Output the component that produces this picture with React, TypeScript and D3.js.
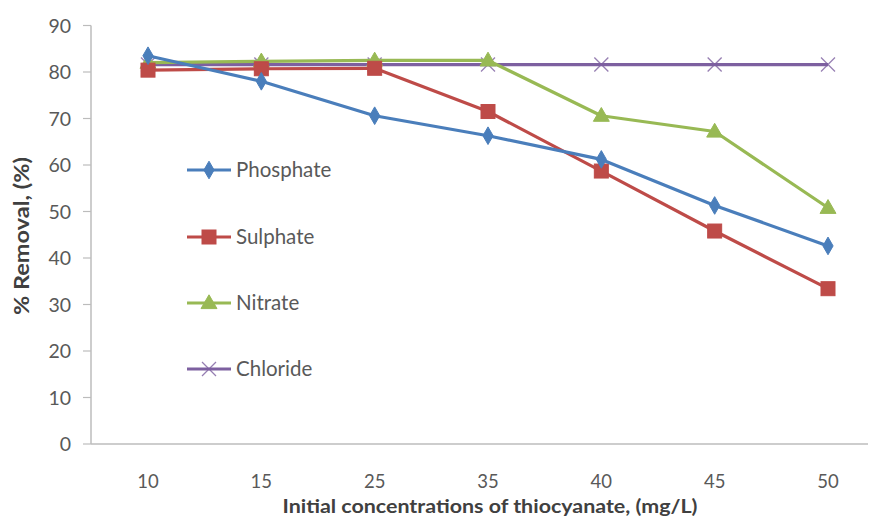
import React from "react";
import * as d3 from "d3";

const categories = ["10", "15", "25", "35", "40", "45", "50"];
const phosphate = [83.5, 78.0, 70.6, 66.3, 61.2, 51.3, 42.6];
const sulphate = [80.4, 80.7, 80.8, 71.5, 58.7, 45.8, 33.4];
const nitrate = [82.0, 82.3, 82.5, 82.5, 70.6, 67.2, 50.8];
const chloride = [81.6, 81.6, 81.6, 81.6, 81.6, 81.6, 81.6];
const yTicks = [0, 10, 20, 30, 40, 50, 60, 70, 80, 90];

type Series = { name: string; values: number[]; color: string; marker: string };

const series: Series[] = [
  { name: "Phosphate", values: phosphate, color: "#4a7ebb", marker: "diamond" },
  { name: "Sulphate", values: sulphate, color: "#be4b48", marker: "square" },
  { name: "Nitrate", values: nitrate, color: "#98b954", marker: "triangle" },
  { name: "Chloride", values: chloride, color: "#7d60a0", marker: "x" },
];

const W = 888;
const H = 520;
const left = 91;
const right = 868;
const top = 25.5;
const bottom = 444;
const font = "Lato, 'Open Sans', sans-serif";

const x = d3.scalePoint<string>().domain(categories).range([148, 828]);
const y = d3.scaleLinear().domain([0, 90]).range([bottom, top]);

function Marker({ kind, cx, cy, color }: { kind: string; cx: number; cy: number; color: string }) {
  if (kind === "diamond") {
    const p = d3.symbol(d3.symbolDiamond, 90)();
    return <path d={p || ""} transform={`translate(${cx},${cy})`} fill={color} stroke={color} strokeWidth={1} />;
  }
  if (kind === "square") {
    return <rect x={cx - 7} y={cy - 7} width={14} height={14} fill={color} stroke={color} />;
  }
  if (kind === "triangle") {
    const p = d3.symbol(d3.symbolTriangle, 110)();
    return <path d={p || ""} transform={`translate(${cx},${cy + 1})`} fill={color} stroke={color} strokeWidth={1} />;
  }
  const s = 7;
  return (
    <g stroke={color} strokeWidth={1.3} opacity={0.8}>
      <line x1={cx - s} y1={cy - s} x2={cx + s} y2={cy + s} />
      <line x1={cx - s} y1={cy + s} x2={cx + s} y2={cy - s} />
    </g>
  );
}

export default function App() {
  const line = d3
    .line<number>()
    .x((_, i) => x(categories[i]) as number)
    .y((v) => y(v));

  const legendY = [170, 237, 303, 369];

  return (
    <svg width={W} height={H} style={{ position: "absolute", left: 0, top: 0, background: "#fff" }}>
      {/* axes */}
      <line x1={left} y1={top} x2={left} y2={bottom} stroke="#bcbcbc" strokeWidth={1.5} />
      <line x1={left} y1={bottom} x2={right} y2={bottom} stroke="#bcbcbc" strokeWidth={1.5} />
      {yTicks.map((t) => (
        <g key={t}>
          <line x1={left - 8} x2={left} y1={y(t)} y2={y(t)} stroke="#bcbcbc" strokeWidth={1.2} />
          <text x={71} y={y(t)} dy="0.36em" textAnchor="end" fontFamily={font} fontSize={19.5} fill="#595959">
            {t}
          </text>
        </g>
      ))}
      {categories.map((c) => (
        <text key={c} x={x(c)} y={481} dy="0.36em" textAnchor="middle" fontFamily={font} fontSize={18.5} fill="#595959">
          {c}
        </text>
      ))}
      <text
        x={490}
        y={513}
        textAnchor="middle"
        fontFamily={font}
        fontSize={19}
        fontWeight="bold"
        fill="#404040"
        textLength={415}
        lengthAdjust="spacingAndGlyphs"
      >
        Initial concentrations of thiocyanate, (mg/L)
      </text>
      <text
        transform={`translate(29,236) rotate(-90)`}
        textAnchor="middle"
        fontFamily={font}
        fontSize={20}
        fontWeight="bold"
        fill="#404040"
        textLength={158}
        lengthAdjust="spacingAndGlyphs"
      >
        % Removal, (%)
      </text>

      {/* series lines, drawn back to front */}
      {[...series].reverse().map((s) => (
        <g key={s.name}>
          <path d={line(s.values) || ""} fill="none" stroke={s.color} strokeWidth={3.2} strokeLinejoin="round" />
          {s.values.map((v, i) => (
            <Marker key={i} kind={s.marker} cx={x(categories[i]) as number} cy={y(v)} color={s.color} />
          ))}
        </g>
      ))}

      {/* legend */}
      {series.map((s, i) => (
        <g key={s.name}>
          <line x1={187} x2={231} y1={legendY[i]} y2={legendY[i]} stroke={s.color} strokeWidth={3.2} />
          <Marker kind={s.marker} cx={209} cy={legendY[i]} color={s.color} />
          <text x={236} y={legendY[i]} dy="0.36em" fontFamily={font} fontSize={20.5} fill="#595959">
            {s.name}
          </text>
        </g>
      ))}
    </svg>
  );
}
